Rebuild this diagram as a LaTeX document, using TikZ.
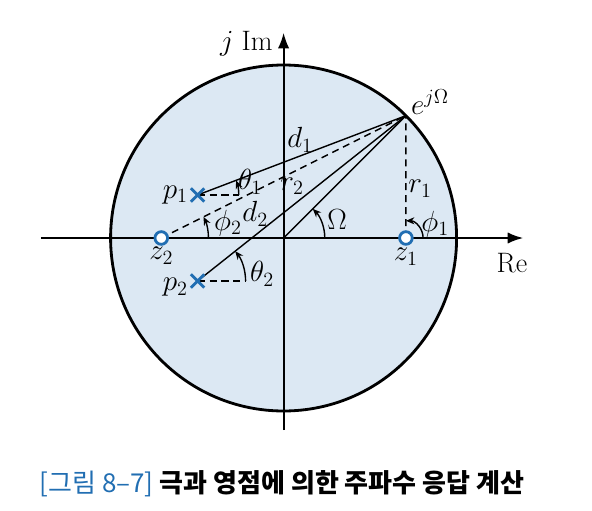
\documentclass[tikz,border=0pt]{standalone}
\usepackage{amsmath,amssymb}
\usepackage{fontspec}
\usepackage{tikz}
\usepackage{xcolor}
\usetikzlibrary{arrows.meta,positioning,shapes.misc}
\newfontfamily\kr{Noto Sans CJK KR}
\definecolor{diskfill}{RGB}{220,232,243}
\definecolor{mkblue}{RGB}{33,110,178}

\begin{document}
\begin{tikzpicture}[
    node distance=1pt,
    lbl/.style={font=\fontsize{20}{24}\selectfont, inner sep=1pt},
    axis/.style={-{Latex[length=11pt,width=8pt]}, line width=1.3pt},
    vec/.style={line width=1pt},
    ref/.style={line width=1pt, dash pattern=on 5pt off 3.5pt},
    ang/.style={-{Stealth[length=6pt,width=5pt]}, line width=1pt},
    pole/.style={cross out, draw=mkblue, line width=2pt, minimum size=7.5pt, inner sep=0pt},
    zero/.style={circle, draw=mkblue, fill=white, line width=2pt, minimum size=9pt, inner sep=0pt}
]
    \useasboundingbox (-7.09,-6.8) rectangle (7.71,5.95);
    % unit circle
    \fill[diskfill] (0,0) circle (4.325);
    \coordinate (o) at (0,0);
    \draw[axis] (-6.07,0) -- (5.99,0) coordinate (xend);
    \draw[axis] (0,-4.8) -- (0,5.13) coordinate (yend);
    \draw[line width=2pt] (o) circle (4.325);
    \node[lbl] (re) at (5.71,-0.63) {Re};
    \node[lbl] (im) at (-0.93,4.85) {$j\;\mathrm{Im}$};

    % points
    \coordinate (e) at (45:4.325);
    \coordinate (z1) at (3.058,0);
    \coordinate (z2) at (-3.058,0);
    \coordinate (p1) at (-2.15,1.075);
    \coordinate (p2) at (-2.15,-1.075);

    % vectors to e^{j Omega}
    \draw[vec] (p1) -- (e);
    \draw[vec] (p2) -- (e);
    \draw[vec] (o) -- (e);
    \draw[ref] (z2) -- (e);
    \draw[ref] (z1) -- (e);
    \draw[ref] (p1) -- ++(1.03,0);
    \draw[ref] (p2) -- ++(1.2,0);

    % angles
    \draw[ang] ([shift={(0:1.03)}]p1) arc[start angle=0, end angle=20.8, radius=1.03];
    \draw[ang] ([shift={(0:1.18)}]z2) arc[start angle=0, end angle=26.6, radius=1.18];
    \draw[ang] ([shift={(0:1.2)}]p2) arc[start angle=0, end angle=38.4, radius=1.2];
    \draw[ang] ([shift={(0:1.03)}]o) arc[start angle=0, end angle=45, radius=1.03];
    \draw[ang] ([shift={(0:0.43)}]z1) arc[start angle=0, end angle=90, radius=0.43];

    % poles and zeros
    \node[pole] (pole1) at (p1) {};
    \node[pole] (pole2) at (p2) {};
    \node[zero] (zero1) at (z1) {};
    \node[zero] (zero2) at (z2) {};

    % labels
    \node[lbl, left=1pt of pole1] {$p_1$};
    \node[lbl, left=1pt of pole2, yshift=-4.5pt] {$p_2$};
    \node[lbl, below=0pt of zero2] {$z_2$};
    \node[lbl, below=0.5pt of zero1] {$z_1$};
    \node[lbl] at (3.66,3.4) {$e^{j\Omega}$};
    \node[lbl] at (0.41,2.45) {$d_1$};
    \node[lbl] at (0.21,1.3) {$r_2$};
    \node[lbl] at (-0.71,0.6) {$d_2$};
    \node[lbl] at (3.41,1.23) {$r_1$};
    \node[lbl] at (-0.84,1.4) {$\theta_1$};
    \node[lbl] at (-1.39,0.38) {$\phi_2$};
    \node[lbl] at (-0.54,-0.9) {$\theta_2$};
    \node[lbl] at (1.34,0.45) {$\Omega$};
    \node[lbl] at (3.79,0.35) {$\phi_1$};

    % caption
    \node[font=\kr\fontsize{18.5}{22}\selectfont] (cap) at (-0.04,-6.15)
        {\textcolor{mkblue}{[그림 8–7]}\ \textbf{극과 영점에 의한 주파수 응답 계산}};
\end{tikzpicture}
\end{document}
